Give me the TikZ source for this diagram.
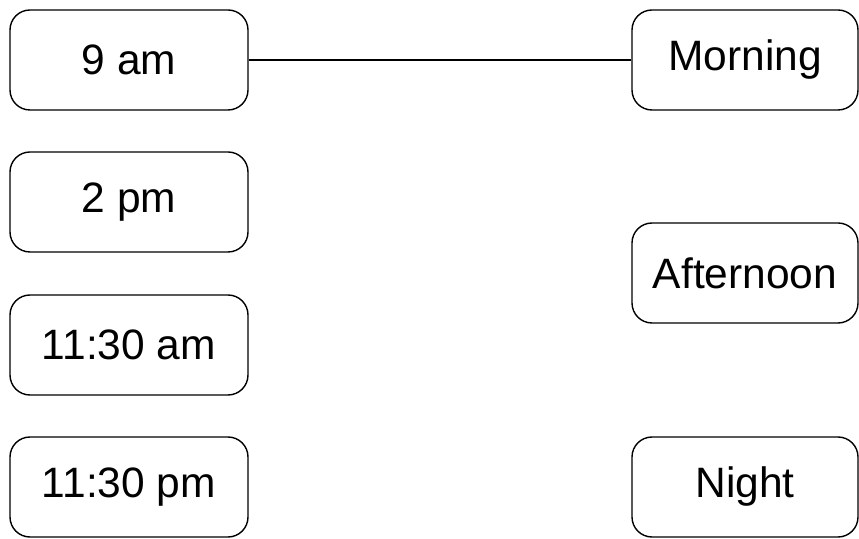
\documentclass[tikz,border=0pt]{standalone}
\usepackage{fontspec}
\setmainfont{Liberation Sans}
\usetikzlibrary{positioning}
\tikzset{
  timebox/.style={draw, line width=1.4pt, rounded corners=20pt, minimum width=238pt, minimum height=100pt, font=\fontsize{42.5}{50}\selectfont},
  partbox/.style={timebox, minimum width=226pt}
}
\begin{document}
\begin{tikzpicture}[x=1pt,y=1pt]
\useasboundingbox (0,0) rectangle (859,538);
% times of day
\node [timebox] (nine) at (129,478) {9 am};
\node [timebox] (two) at (129,336) {2 pm};
\node [timebox] (halfam) at (129,193) {11:30 am};
\node [timebox] (halfpm) at (129,51) {11:30 pm};
% parts of day
\node [partbox] (morning) at (745,478) {Morning};
\node [partbox] (afternoon) at (745,265) {Afternoon};
\node [partbox] (night) at (745,51) {Night};
\draw [line width=1.4pt] (nine) -- (morning);
\end{tikzpicture}
\end{document}
